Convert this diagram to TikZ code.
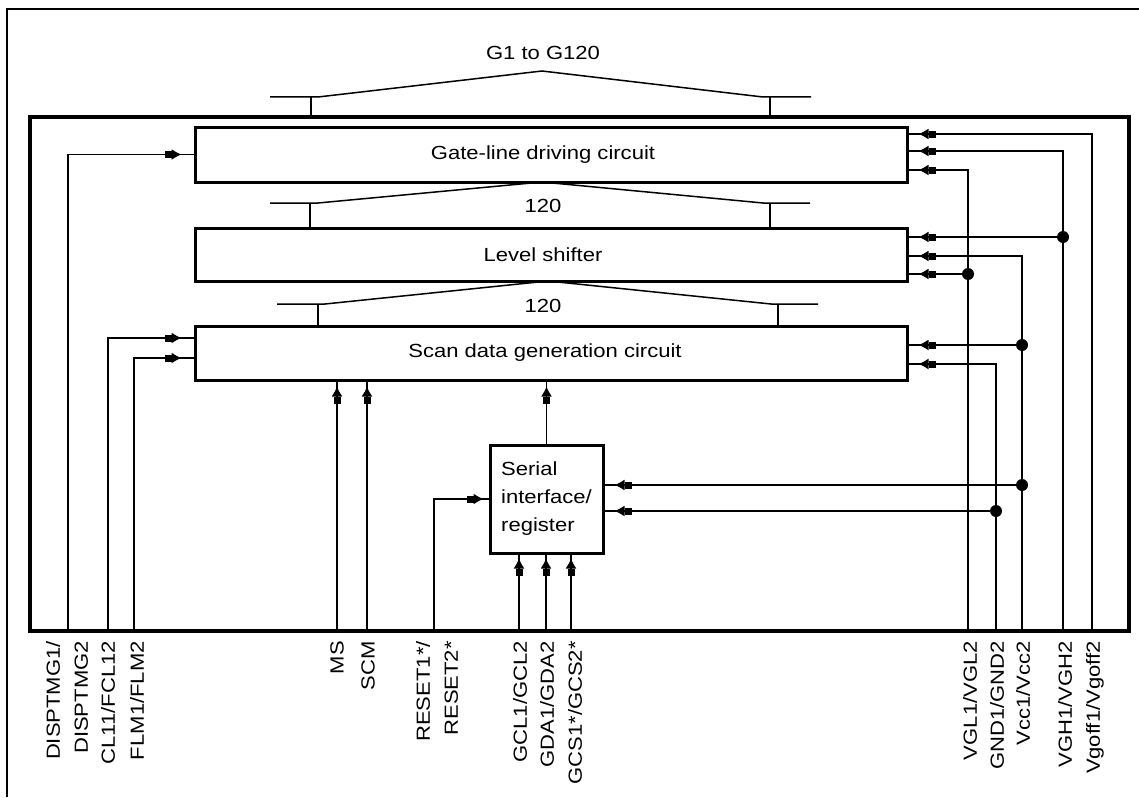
\documentclass[tikz,border=0pt]{standalone}
\usepackage{fontspec}
\setmainfont{Liberation Sans}[FakeStretch=1.16]
\usetikzlibrary{arrows.meta,decorations.markings}

\begin{document}
\begin{tikzpicture}[x=1pt,y=-1pt,font=\fontsize{19}{28}\selectfont,
block/.style={draw,line width=3pt,minimum width=712pt,inner sep=0pt},
sig/.style={line width=1.4pt},
feed/.style={sig,postaction={decorate},decoration={markings,
 mark=at position -#1 with {\arrow{Rectangle[length=7pt,width=7pt] Latex[length=10pt,width=11pt]}}}},
feed/.default=8pt,
bus/.style={line width=1.5pt},
pinlabel/.style={rotate=90,anchor=east,inner sep=0pt,align=right}]
\useasboundingbox (0,0) rectangle (1139,797);
\draw[line width=2pt] (7,797) |- (1139,9);
% chip outline and blocks
\node[draw,line width=4pt,minimum width=1099pt,minimum height=514pt,inner sep=0pt] (chip) at (579.5,374) {};
\node[block,minimum height=55pt] (gate) at (551,154.5) {\hspace*{-16pt}Gate-line driving circuit};
\node[block,minimum height=53pt] (level) at (551,254.5) {\hspace*{-16pt}Level shifter};
\node[block,minimum height=54pt] (scan) at (551,353) {\hspace*{-12pt}Scan data generation circuit};
\node[draw,line width=3pt,minimum width=113pt,minimum height=108pt,inner sep=0pt,align=left] (serial) at (546.5,499) {Serial\\interface/\\register};
% 120-line buses
\draw[bus] (270,97)--(318,97)--(542,71)--(763,97)--(811,97);
\draw[bus] (311,97)--(311,117) (770,97)--(770,117);
\node (gout) at (543,53) {G1 to G120};
\draw[bus] (270,203)--(318,203)--(542,182)--(763,203)--(810,203);
\draw[bus] (310,203)--(310,228) (770,203)--(770,228);
\node (bus1) at (543,206) {120};
\draw[bus] (277,304)--(325,304)--(548,281)--(771,304)--(818,304);
\draw[bus] (318,304)--(318,326) (778,304)--(778,326);
\node (bus2) at (543,306) {120};
% pins on the chip edge
\coordinate (pDISP) at (68,631);
\coordinate (pCL) at (108,631);
\coordinate (pFLM) at (134,631);
\coordinate (pMS) at (337,631);
\coordinate (pSCM) at (367,631);
\coordinate (pRESET) at (434,631);
\coordinate (pGCL) at (519,631);
\coordinate (pGDA) at (546,631);
\coordinate (pGCS) at (571,631);
\coordinate (pVGL) at (968,631);
\coordinate (pGND) at (996,631);
\coordinate (pVcc) at (1022,631);
\coordinate (pVGH) at (1063,631);
\coordinate (pVgoff) at (1092,631);
% left inputs
\draw[feed=12pt] (pDISP) |- (gate.west);
\draw[feed=12pt] (pCL) |- ([yshift=15pt]scan.west);
\draw[feed=12pt] (pFLM) |- ([yshift=-5pt]scan.west);
% bottom inputs
\draw[feed=5pt] (pMS) -- (pMS |- scan.south);
\draw[feed=5pt] (pSCM) -- (pSCM |- scan.south);
\draw[feed=5pt] (pRESET) |- (serial.west);
\draw[feed=4pt] (pGCL) -- (pGCL |- serial.south);
\draw[feed=4pt] (pGDA) -- (pGDA |- serial.south);
\draw[feed=4pt] (pGCS) -- (pGCS |- serial.south);
\draw[feed=5pt] (serial.north) -- (serial.north |- scan.south);
% supply rails
\draw[feed=10pt] (pVgoff) |- ([yshift=20.5pt]gate.east);
\draw[feed=10pt] (pVGH) |- ([yshift=3.5pt]gate.east);
\draw[feed=10pt] (pVGL) |- ([yshift=-15.5pt]gate.east);
\draw[feed=10pt] (pVcc) |- ([yshift=-1.5pt]level.east);
\draw[feed=10pt] (pGND) |- ([yshift=-11pt]scan.east);
\coordinate (jVGH) at (1063,237);
\coordinate (jVGL) at (968,274);
\coordinate (jVcc) at (1022,345);
\coordinate (jVccS) at (1022,485);
\coordinate (jGND) at (996,511);
\draw[feed=10pt] (jVGH) -- (jVGH -| level.east);
\draw[feed=10pt] (jVGL) -- (jVGL -| level.east);
\draw[feed=10pt] (jVcc) -- (jVcc -| scan.east);
\draw[feed=10pt] (jVccS) -- (jVccS -| serial.east);
\draw[feed=10pt] (jGND) -- (jGND -| serial.east);
\foreach \j in {jVGH,jVGL,jVcc,jVccS,jGND} \fill (\j) circle (6pt);
% pin names
\node[pinlabel] (lDISP) at (67,641) {DISPTMG1/\\DISPTMG2};
\node[pinlabel] (lCL) at (108,641) {CL11/FCL12};
\node[pinlabel] (lFLM) at (137,641) {FLM1/FLM2};
\node[pinlabel] (lMS) at (337,641) {MS};
\node[pinlabel] (lSCM) at (368,641) {SCM};
\node[pinlabel] (lRESET) at (437,641) {RESET1*/\\RESET2*};
\node[pinlabel] (lGCL) at (520,641) {GCL1/GCL2};
\node[pinlabel] (lGDA) at (547,641) {GDA1/GDA2};
\node[pinlabel] (lGCS) at (575,641) {GCS1*/GCS2*};
\node[pinlabel] (lVGL) at (970,641) {VGL1/VGL2};
\node[pinlabel] (lGND) at (997,641) {GND1/GND2};
\node[pinlabel] (lVcc) at (1023,641) {Vcc1/Vcc2};
\node[pinlabel] (lVGH) at (1065,641) {VGH1/VGH2};
\node[pinlabel] (lVgoff) at (1095,641) {Vgoff1/Vgoff2};
\end{tikzpicture}
\end{document}
